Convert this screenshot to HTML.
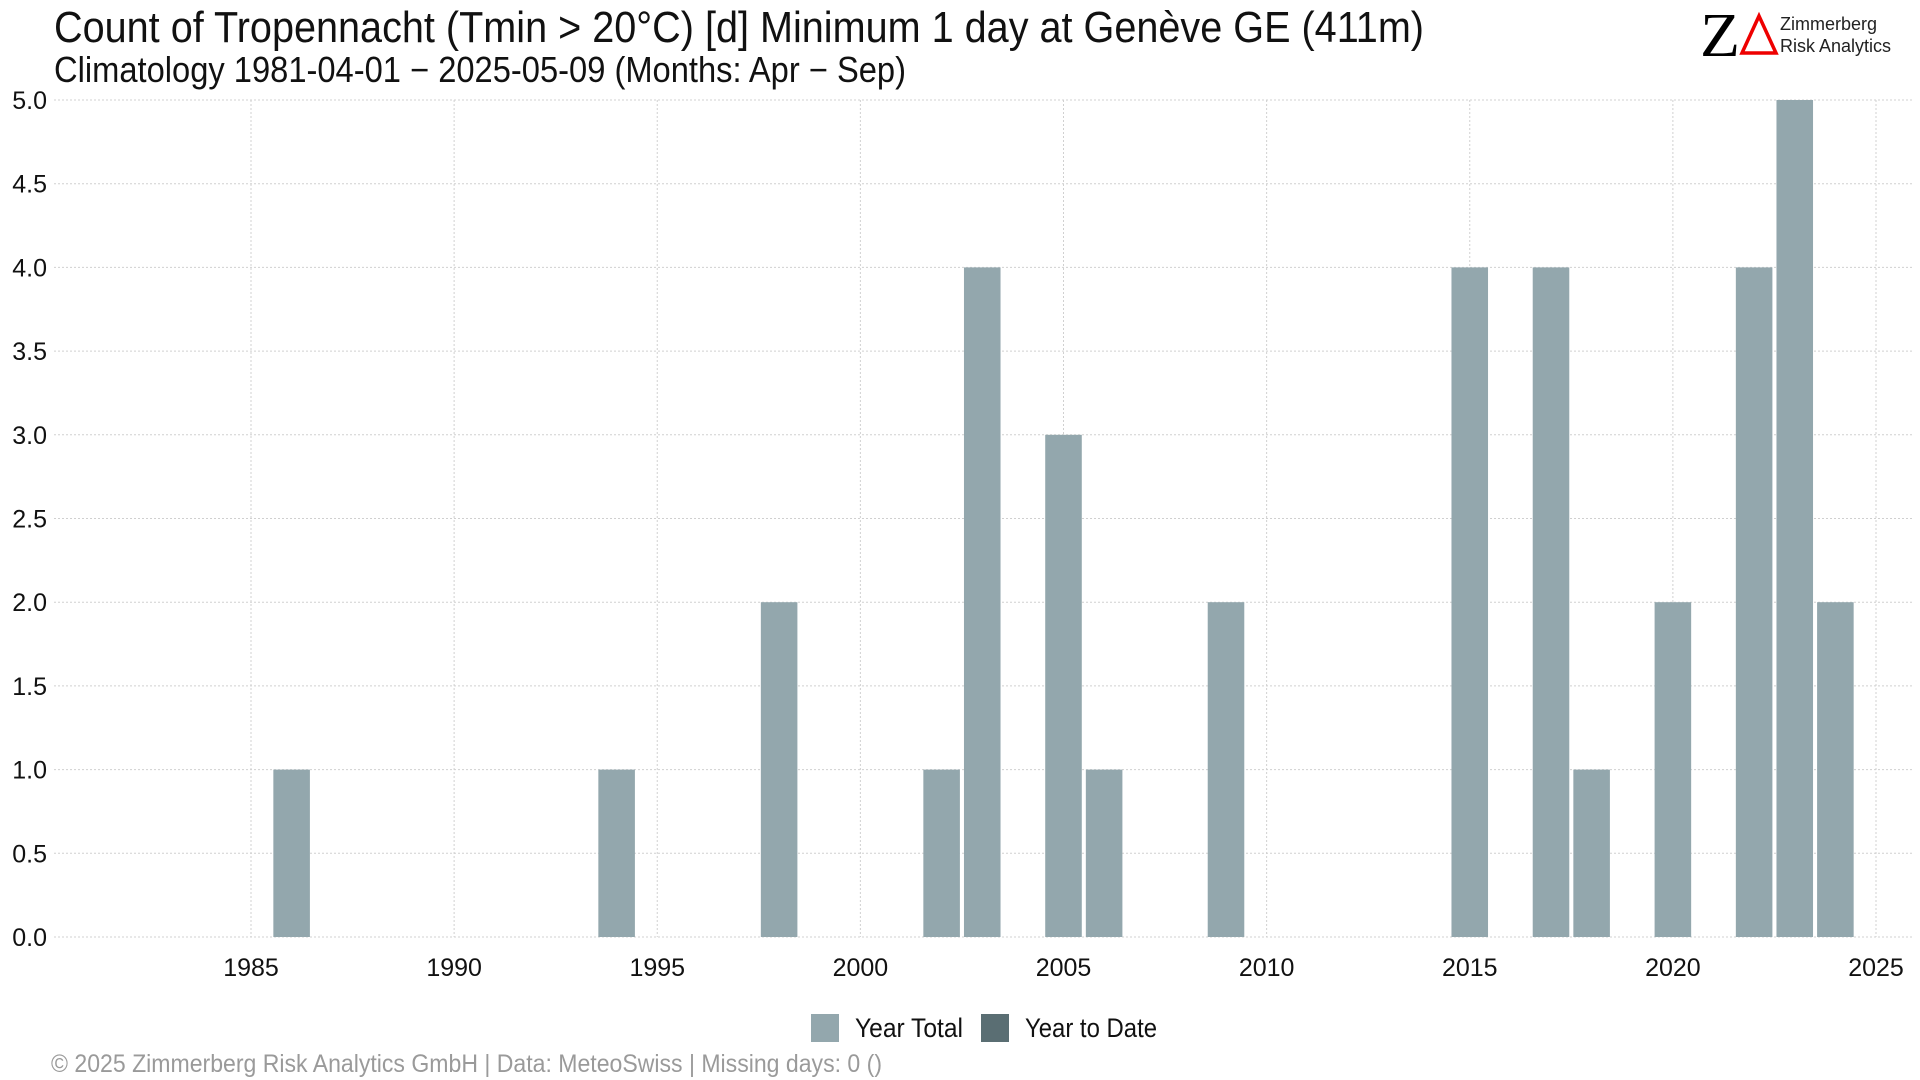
<!DOCTYPE html>
<html><head><meta charset="utf-8"><style>
html,body{margin:0;padding:0;background:#fff;}
svg{display:block;font-family:"Liberation Sans Narrow","Liberation Sans",sans-serif;}
</style></head><body>
<svg id="chart" width="1920" height="1080" viewBox="0 0 1920 1080">
<text x="54" y="42" font-size="44" fill="#111" textLength="1370" lengthAdjust="spacingAndGlyphs">Count of Tropennacht (Tmin &gt; 20°C) [d] Minimum 1 day at Genève  GE (411m)</text>
<text x="54" y="82" font-size="36" fill="#111" textLength="852" lengthAdjust="spacingAndGlyphs">Climatology 1981-04-01 − 2025-05-09 (Months: Apr − Sep)</text>
<g>
<text x="1700" y="56" font-size="62" font-family="Liberation Serif,serif" fill="#000" textLength="40" lengthAdjust="spacingAndGlyphs">Z</text>
<polygon points="1759,16 1776,53 1742,53" fill="none" stroke="#e00" stroke-width="3.5"/>
<text x="1780" y="30" font-size="18" fill="#222" font-family="Liberation Sans,sans-serif">Zimmerberg</text>
<text x="1780" y="52" font-size="18" fill="#222" font-family="Liberation Sans,sans-serif">Risk Analytics</text>
</g>
<g id="grid"></g><g id="bars"></g><g id="axes"></g>
<g>
<rect x="811" y="1014" width="28" height="28" fill="#93a7ad"/>
<text x="855" y="1037" font-size="27" fill="#111" textLength="108" lengthAdjust="spacingAndGlyphs">Year Total</text>
<rect x="981" y="1014" width="28" height="28" fill="#5a6e73"/>
<text x="1025" y="1037" font-size="27" fill="#111" textLength="132" lengthAdjust="spacingAndGlyphs">Year to Date</text>
</g>
<text x="51" y="1072" font-size="25" fill="#9a9a9a" textLength="831" lengthAdjust="spacingAndGlyphs">©  2025 Zimmerberg Risk Analytics GmbH | Data: MeteoSwiss | Missing days: 0 ()</text>
</svg>
<script>
const years = [1986,1994,1998,2002,2003,2005,2006,2009,2015,2017,2018,2020,2022,2023,2024];
const counts = [1,1,2,1,4,3,1,2,4,4,1,2,4,5,2];
const yTicks = [0,0.5,1,1.5,2,2.5,3,3.5,4,4.5,5];
const xTicks = [1985,1990,1995,2000,2005,2010,2015,2020,2025];
const NS="http://www.w3.org/2000/svg";
const L=54,R=1914,T=100,B=937;
function xs(y){return 251+(y-1985)*(1876-251)/40;}
function ys(v){return B-(v/5)*(B-T);}
function mk(tag,attrs,parent){const e=document.createElementNS(NS,tag);for(const k in attrs)e.setAttribute(k,attrs[k]);document.getElementById(parent).appendChild(e);return e;}
yTicks.forEach(t=>{
 const l=mk('line',{x1:L,x2:R,y1:ys(t),y2:ys(t),stroke:'#d0d0d0','stroke-width':1,'stroke-dasharray':'2,2'},'grid');
 
 
 const tx=mk('text',{x:47,y:ys(t)+9,'font-size':25,'text-anchor':'end',fill:'#111'},'axes');
 tx.textContent=t.toFixed(1);
 
 
});
xTicks.forEach(t=>{
 const l=mk('line',{x1:xs(t),x2:xs(t),y1:T,y2:B,stroke:'#d0d0d0','stroke-width':1,'stroke-dasharray':'2,2'},'grid');
 
 
 const tx=mk('text',{x:xs(t),y:976,'font-size':25,'text-anchor':'middle',fill:'#111'},'axes');
 tx.textContent=t;
 
 
});
const bw=(1876-251)/40*0.9;
years.forEach((y,i)=>{
 const r=mk('rect',{x:xs(y)-bw/2,y:ys(counts[i]),width:bw,height:ys(0)-ys(counts[i]),fill:'#93a7ad'},'bars');
 
 
});
</script>
</body></html>
